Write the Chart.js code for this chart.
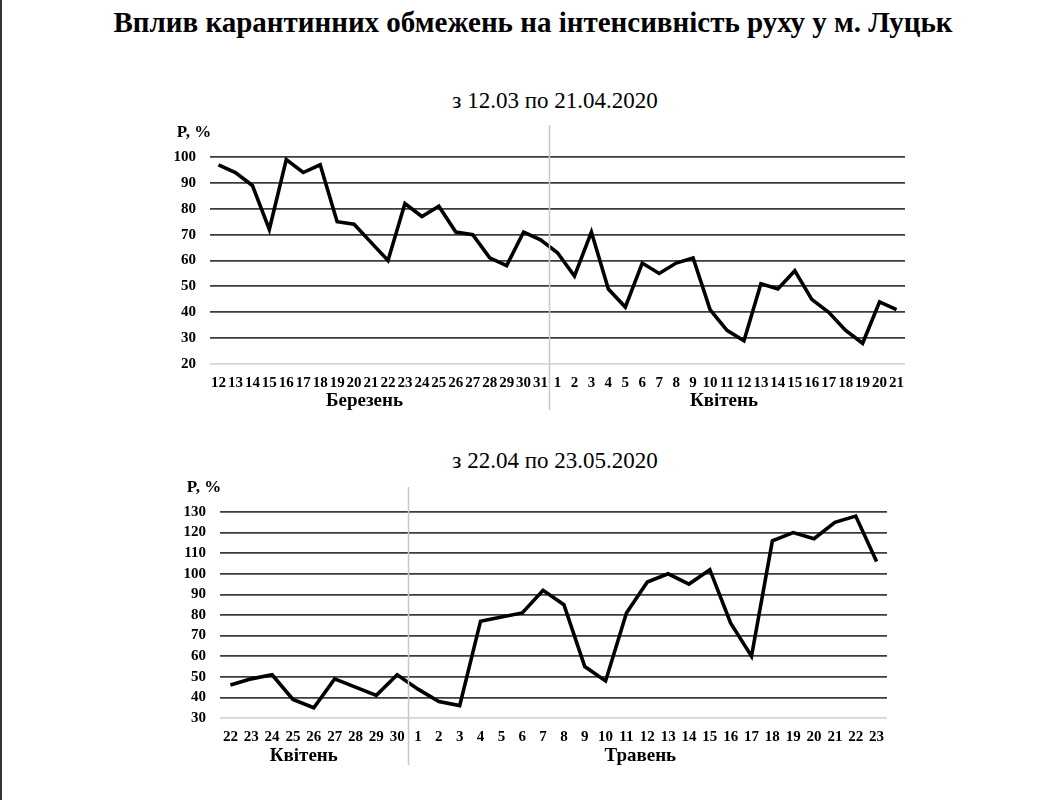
<!DOCTYPE html>
<html lang="uk">
<head>
<meta charset="utf-8">
<title>Вплив карантинних обмежень на інтенсивність руху у м. Луцьк</title>
<script src="https://cdn.jsdelivr.net/npm/chart.js@4/dist/chart.umd.min.js"></script>
<style>
  html, body { margin: 0; padding: 0; background: #fff; }
  body { width: 1042px; height: 800px; position: relative; overflow: hidden;
         font-family: "Liberation Serif", "Times New Roman", serif; color: #000;
         border-left: 2px solid #333; box-sizing: border-box; }
  .title { position: absolute; left: 0; top: 4px; width: 1062px; text-align: center;
           font-weight: bold; font-size: 29px; line-height: 36px; }
  .sub { position: absolute; left: 0; width: 1106px; text-align: center; font-size: 23px; line-height: 28px; }
  .box { position: absolute; left: 150px; width: 800px; height: 300px; }
</style>
</head>
<body>
<div class="title">Вплив карантинних обмежень на інтенсивність руху у м. Луцьк</div>
<div class="sub" style="top:87px">з 12.03 по 21.04.2020</div>
<div class="sub" style="top:447px">з 22.04 по 23.05.2020</div>
<div class="box" style="top:120px"><canvas id="chart1"></canvas></div>
<div class="box" style="top:480px"><canvas id="chart2"></canvas></div>

<script>
// Період 1: 12.03 - 21.04
const days1 = ['12','13','14','15','16','17','18','19','20','21','22','23','24','25','26','27','28','29','30','31',
               '1','2','3','4','5','6','7','8','9','10','11','12','13','14','15','16','17','18','19','20','21'];
const values1 = [97, 94, 89, 72, 99, 94, 97, 75, 74, 67, 60, 82, 77, 81, 71, 70, 61, 58, 71, 68,
                 63, 54, 71, 49, 42, 59, 55, 59, 61, 41, 33, 29, 51, 49, 56, 45, 40, 33, 28, 44, 41];
const months1 = [{ name: 'Березень', from: 0, to: 19 }, { name: 'Квітень', from: 20, to: 40 }];

// Період 2: 22.04 - 23.05
const days2 = ['22','23','24','25','26','27','28','29','30',
               '1','2','3','4','5','6','7','8','9','10','11','12','13','14','15','16','17','18','19','20','21','22','23'];
const values2 = [46, 49, 51, 39, 35, 49, 45, 41, 51,
                 44, 38, 36, 77, 79, 81, 92, 85, 55, 48, 81, 96, 100, 95, 102, 76, 60, 116, 120, 117, 125, 128, 106];
const months2 = [{ name: 'Квітень', from: 0, to: 8 }, { name: 'Травень', from: 9, to: 31 }];

const serif = '"Liberation Serif", "Times New Roman", serif';

// підписи місяців, роздільник та "P, %"
const extrasPlugin = {
    id: 'extras',
    afterDraw(chart, args, opts) {
        const ctx = chart.ctx;
        const x = chart.scales.x;
        const area = chart.chartArea;
        ctx.save();
        // вертикальний роздільник між місяцями
        const xd = Math.round(x.getPixelForValue(opts.split - 0.5)) + 0.5;
        ctx.strokeStyle = '#c8c8c8';
        ctx.lineWidth = 1.5;
        ctx.beginPath();
        ctx.moveTo(xd, opts.divTop);
        ctx.lineTo(xd, opts.divBottom);
        ctx.stroke();
        // назви місяців
        ctx.fillStyle = '#000';
        ctx.font = 'bold 19px ' + serif;
        ctx.textAlign = 'center';
        ctx.textBaseline = 'middle';
        opts.months.forEach((m, i) => {
            const cx = (x.getPixelForValue(m.from) + x.getPixelForValue(m.to)) / 2;
            ctx.fillText(m.name, cx + opts.monthShift[i], opts.monthY);
        });
        // підпис осі Y
        ctx.font = 'bold 17px ' + serif;
        ctx.fillText('P, %', area.left - 16, area.top - 24);
        ctx.restore();
    }
};

function makeChart(id, labels, data, yMin, yMax, o) {
    return new Chart(document.getElementById(id), {
        type: 'line',
        data: {
            labels: labels,
            datasets: [{
                data: data,
                borderColor: '#000',
                borderWidth: 3.6,
                pointRadius: 0,
                tension: 0,
                fill: false
            }]
        },
        options: {
            responsive: false,
            animation: false,
            layout: { padding: { top: o.top, right: o.right, left: 0, bottom: 0 } },
            plugins: {
                legend: { display: false },
                tooltip: { enabled: false },
                extras: { split: o.split, months: o.months, monthShift: o.monthShift, monthY: o.monthY,
                          divTop: o.divTop, divBottom: o.divBottom }
            },
            scales: {
                x: {
                    offset: true,
                    grid: { display: false, drawTicks: false },
                    border: { display: false },
                    ticks: {
                        autoSkip: false, maxRotation: 0, padding: o.xPad, color: '#000',
                        font: { family: serif, weight: 'bold', size: o.xFont }
                    },
                    afterFit: s => { s.height = o.xHeight; }
                },
                y: {
                    min: yMin, max: yMax,
                    grid: {
                        drawTicks: false,
                        lineWidth: 1.8,
                        color: c => c.tick && c.tick.value === yMin ? '#d6d6d6' : '#3c3c3c'
                    },
                    border: { display: false },
                    ticks: {
                        stepSize: 10, autoSkip: false, padding: 14, color: '#000',
                        font: { family: serif, weight: 'bold', size: 15 }
                    },
                    afterFit: s => { s.width = o.yWidth; }
                }
            }
        },
        plugins: [extrasPlugin]
    });
}

// розміри полотна
['chart1', 'chart2'].forEach(id => {
    const c = document.getElementById(id);
    c.width = 800; c.height = 300;
    c.style.width = '800px'; c.style.height = '300px';
});

makeChart('chart1', days1, values1, 20, 100, {
    top: 37, right: 47, yWidth: 58, xHeight: 56, xPad: 10, xFont: 15,
    split: 20, months: months1, monthShift: [-15, -3], monthY: 281, divTop: 5, divBottom: 290
});
makeChart('chart2', days2, values2, 30, 130, {
    top: 32, right: 65, yWidth: 68, xHeight: 62, xPad: 10, xFont: 15,
    split: 9, months: months2, monthShift: [-10, -7], monthY: 276, divTop: 7, divBottom: 285
});
</script>
</body>
</html>
